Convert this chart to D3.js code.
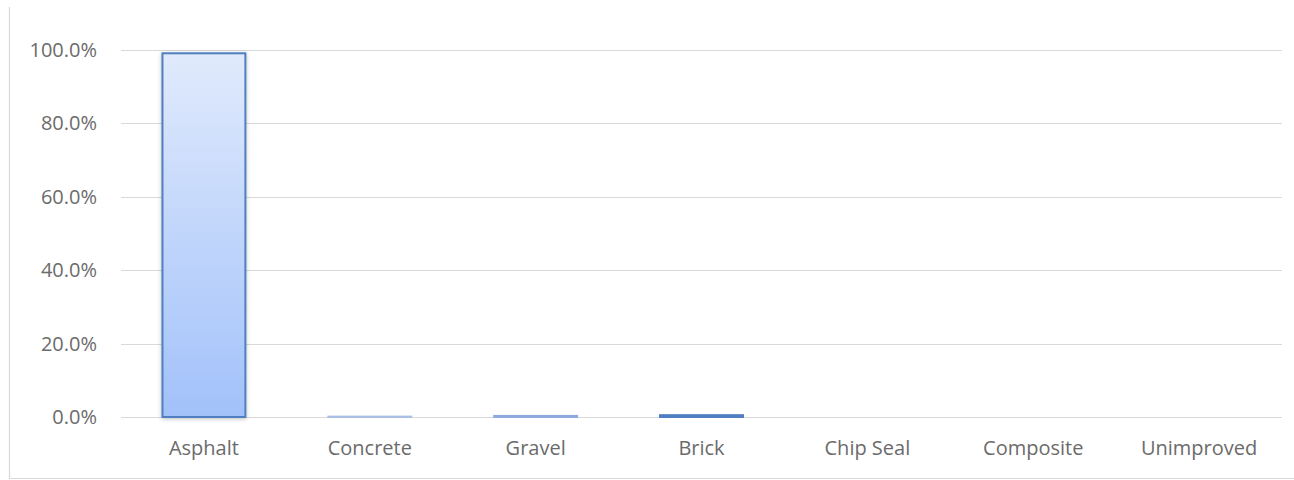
<!DOCTYPE html>
<html><head><meta charset="utf-8">
<script src="https://cdn.jsdelivr.net/npm/d3@7"></script>
<style>html,body{margin:0;padding:0;background:#fff;}svg{display:block;}</style>
</head><body>
<svg id="c" width="1294" height="480"></svg>
<script>
const categories = ["Asphalt","Concrete","Gravel","Brick","Chip Seal","Composite","Unimproved"];
const values = [0.991, 0.001, 0.003, 0.005, 0, 0, 0];
const tickValues = [0, 0.2, 0.4, 0.6, 0.8, 1.0];

const svg = d3.select("#c");
const m = {left:121, right:1282, top:50, bottom:417};
const FONT = "'Open Sans', 'Liberation Sans', sans-serif";

// frame
svg.append("path").attr("d", `M9.5,7 V478.5 H1294`).attr("fill","none").attr("stroke","#d9d9d9").attr("stroke-width",1.2);

const x = d3.scaleBand().domain(categories).range([m.left, m.right]).paddingInner(0.5).paddingOuter(0.25);
const y = d3.scaleLinear().domain([0,1]).range([m.bottom, m.top]);

const defs = svg.append("defs");
const g = defs.append("linearGradient").attr("id","bg").attr("x1",0).attr("y1",0).attr("x2",0).attr("y2",1);
g.append("stop").attr("offset","0%").attr("stop-color","#e0eafc");
g.append("stop").attr("offset","100%").attr("stop-color","#a2c1fa");
const f = defs.append("filter").attr("id","sh").attr("x","-20%").attr("y","-5%").attr("width","140%").attr("height","110%");
f.append("feGaussianBlur").attr("in","SourceAlpha").attr("stdDeviation",2).attr("result","b");
f.append("feOffset").attr("in","b").attr("dx",0).attr("dy",1).attr("result","o");
f.append("feComponentTransfer").attr("in","o").attr("result","o2").append("feFuncA").attr("type","linear").attr("slope",0.25);
const fm = f.append("feMerge"); fm.append("feMergeNode").attr("in","o2"); fm.append("feMergeNode").attr("in","SourceGraphic");

// gridlines
svg.append("g").selectAll("line").data(tickValues).join("line")
  .attr("x1", m.left).attr("x2", m.right)
  .attr("y1", d=>Math.round(y(d))+0.5).attr("y2", d=>Math.round(y(d))+0.5)
  .attr("stroke","#d9d9d9").attr("stroke-width",1.2);

// y axis labels
const yAxis = d3.axisLeft(y).tickValues(tickValues).tickFormat(d3.format(".1%")).tickSize(0).tickPadding(0);
const ya = svg.append("g").attr("transform",`translate(97,0)`).call(yAxis);
ya.select(".domain").remove();
ya.selectAll("text").attr("fill","#6b6b6b").style("font-family",FONT).style("font-size","20px");

// bars
svg.append("g").selectAll("rect").data(values).join("rect")
  .attr("x",(d,i)=>x(categories[i]))
  .attr("width",x.bandwidth())
  .attr("y",d=>y(d))
  .attr("height",d=>Math.max(0,y(0)-y(d)))
  .attr("fill","url(#bg)")
  .attr("stroke",(d,i)=> i===2 ? "#8faadc" : (i===1 ? "#a9c0e4" : "#4f7fc0"))
  .attr("stroke-width",d=> d>0 ? 2 : 0)
  .attr("filter",d=> d>0.05 ? "url(#sh)" : null);

// x axis labels
const xAxis = d3.axisBottom(x).tickSize(0).tickPadding(0);
const xa = svg.append("g").attr("transform",`translate(0,${m.bottom+24})`).call(xAxis);
xa.select(".domain").remove();
xa.selectAll("text").attr("fill","#6b6b6b").attr("dy","0.71em").style("font-family",FONT).style("font-size","20px");
</script>
</body></html>
